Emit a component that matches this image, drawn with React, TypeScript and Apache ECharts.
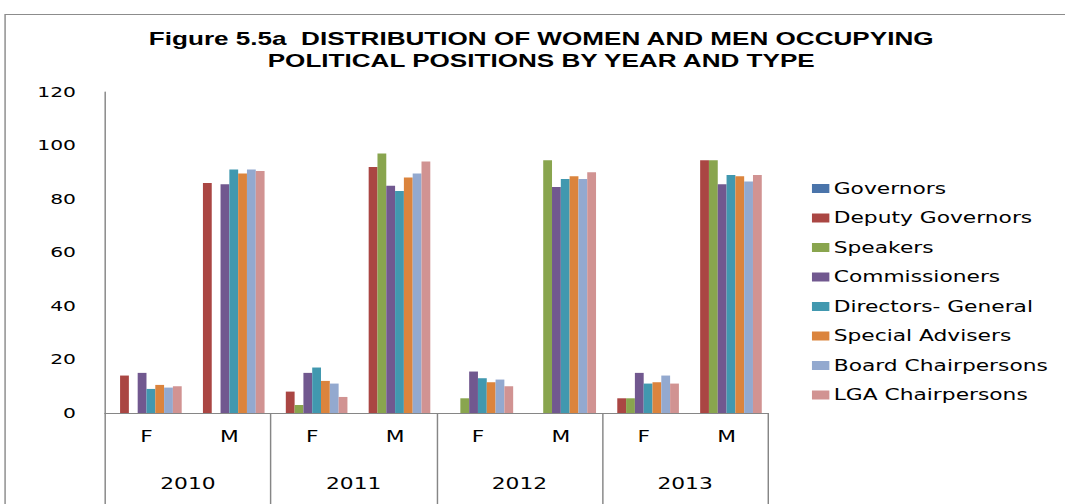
import React, { useEffect, useRef } from "react";
import * as echarts from "echarts";

// Source chart is an Excel chart stretched horizontally; we draw in a narrower box and stretch it.
const OUT_W = 1065;
const OUT_H = 504;
const IN_W = 734;
const SX = OUT_W / IN_W;

const titleLines = [
  "Figure 5.5a  DISTRIBUTION OF WOMEN AND MEN OCCUPYING",
  "POLITICAL POSITIONS BY YEAR AND TYPE",
];
const years = ["2010", "2011", "2012", "2013"];
const sexes = ["F", "M"];
const categories = years.flatMap(() => sexes);

const seriesNames = [
  "Governors",
  "Deputy Governors",
  "Speakers",
  "Commissioners",
  "Directors- General",
  "Special Advisers",
  "Board Chairpersons",
  "LGA Chairpersons",
];
const colors = [
  "#4A74AA",
  "#AA4643",
  "#89A54E",
  "#71588F",
  "#4198AF",
  "#DB843D",
  "#93A9CF",
  "#D19392",
];

// order: 2010 F, 2010 M, 2011 F, 2011 M, 2012 F, 2012 M, 2013 F, 2013 M
const governors = [0, 0, 0, 0, 0, 0, 0, 0];
const deputyGovernors = [14, 86, 8, 92, 0, 0, 5.5, 94.5];
const speakers = [0, 0, 3, 97, 5.5, 94.5, 5.5, 94.5];
const commissioners = [15, 85.5, 15, 85, 15.5, 84.5, 15, 85.5];
const directorsGeneral = [9, 91, 17, 83, 13, 87.5, 11, 89];
const specialAdvisers = [10.5, 89.5, 12, 88, 11.5, 88.5, 11.5, 88.5];
const boardChairpersons = [9.5, 91, 11, 89.5, 12.5, 87.5, 14, 86.5];
const lgaChairpersons = [10, 90.5, 6, 94, 10, 90, 11, 89];
const seriesValues = [
  governors,
  deputyGovernors,
  speakers,
  commissioners,
  directorsGeneral,
  specialAdvisers,
  boardChairpersons,
  lgaChairpersons,
];

const yMin = 0;
const yMax = 120;
const yInterval = 20;

const AXIS_GRAY = "#868686";
const FONT = "DejaVu Sans";

export default function App() {
  const ref = useRef<HTMLDivElement>(null);

  useEffect(() => {
    if (!ref.current) return;
    const chart = echarts.init(ref.current, null, { renderer: "svg" });
    const option: any = {
      animation: false,
      backgroundColor: "#ffffff",
      title: {
        text: titleLines.join("\n"),
        left: 373,
        top: 28,
        padding: 0,
        textAlign: "center",
        textStyle: {
          fontFamily: "Liberation Sans",
          fontWeight: "bold",
          fontSize: 18,
          lineHeight: 22,
          color: "#000000",
        },
      },
      legend: {
        orient: "vertical",
        left: 559.6,
        top: 181,
        padding: 0,
        icon: "rect",
        itemWidth: 12,
        itemHeight: 9,
        itemGap: 14.5,
        data: seriesNames,
        textStyle: {
          fontFamily: FONT,
          fontSize: 15,
          lineHeight: 15,
          color: "#000000",
          padding: [0, 0, 0, -2],
        },
      },
      graphic: [
        {
          type: "rect",
          silent: true,
          z: -10,
          shape: { x: 3.5, y: 14.5, width: 1000, height: 800 },
          style: { fill: "none", stroke: "#8c8c8c", lineWidth: 1 },
        },
      ],
      grid: {
        left: 72.4,
        right: IN_W - 529.3,
        top: 92,
        bottom: OUT_H - 413,
      },
      xAxis: [
        {
          type: "category",
          data: categories,
          axisLine: { show: true, lineStyle: { color: AXIS_GRAY, width: 1 } },
          axisTick: { show: false },
          axisLabel: {
            margin: 16,
            fontFamily: FONT,
            fontSize: 15,
            color: "#000000",
            interval: 0,
          },
        },
        {
          type: "category",
          data: years,
          position: "bottom",
          axisLine: { show: false },
          axisTick: {
            show: true,
            length: 120,
            lineStyle: { color: AXIS_GRAY, width: 1 },
          },
          axisLabel: {
            margin: 63,
            fontFamily: FONT,
            fontSize: 15,
            color: "#000000",
            interval: 0,
          },
        },
      ],
      yAxis: {
        type: "value",
        min: yMin,
        max: yMax,
        interval: yInterval,
        splitLine: { show: false },
        axisLine: { show: true, lineStyle: { color: AXIS_GRAY, width: 1 } },
        axisTick: { show: false },
        axisLabel: {
          margin: 20,
          fontFamily: FONT,
          fontSize: 14,
          color: "#000000",
        },
      },
      series: seriesNames.map((name, i) => ({
        name,
        type: "bar",
        xAxisIndex: 0,
        data: seriesValues[i],
        barGap: "0%",
        barCategoryGap: "15%",
        itemStyle: { color: colors[i] },
      })),
    };
    chart.setOption(option);
    return () => chart.dispose();
  }, []);

  return (
    <div
      style={{
        position: "absolute",
        left: 0,
        top: 0,
        width: OUT_W,
        height: OUT_H,
        overflow: "hidden",
        background: "#ffffff",
      }}
    >
      <div
        ref={ref}
        style={{
          width: IN_W,
          height: OUT_H,
          transform: `scaleX(${SX})`,
          transformOrigin: "0 0",
        }}
      />
    </div>
  );
}
